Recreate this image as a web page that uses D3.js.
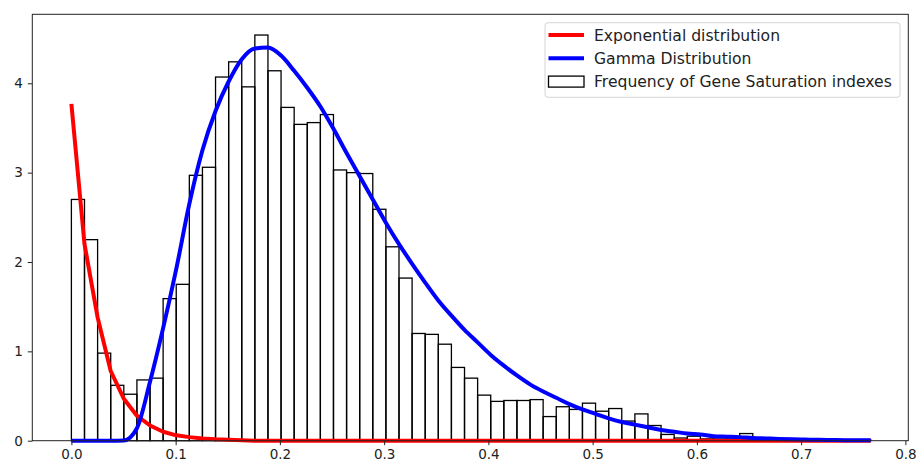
<!DOCTYPE html>
<html>
<head>
	<script src="https://cdn.jsdelivr.net/npm/d3@7"></script>
	<style>
		html, body {
			padding: 0;
			margin: 0;
			background: white;
		}
		text {
			font-family: "DejaVu Sans", sans-serif;
		}
	</style>
</head>
<body>
	<script>
		// histogram bins: first edge and width, then density per bin
		var binStart = 0;
		var binWidth = 0.01257;
		var density = [2.70, 2.25, 0.98, 0.62, 0.52, 0.68, 0.70, 1.59, 1.75, 2.97,
			3.06, 4.07, 4.24, 3.96, 4.54, 4.14, 3.73, 3.54, 3.56, 3.65,
			3.03, 3.00, 2.99, 2.59, 2.17, 1.82, 1.20, 1.19, 1.08, 0.82,
			0.70, 0.51, 0.44, 0.45, 0.45, 0.46, 0.27, 0.38, 0.35, 0.42,
			0.33, 0.36, 0.22, 0.30, 0.17, 0.07, 0.03, 0.05, 0.02, 0.03,
			0.02, 0.08, 0.01, 0.01, 0.01, 0, 0, 0.01, 0, 0, 0.01];

		// fitted curves, sampled at the bin edges
		var expValues = [3.77, 2.20, 1.38, 0.78, 0.47, 0.28, 0.17, 0.10, 0.06, 0.04,
			0.025, 0.015, 0.01, 0.005, 0, 0, 0, 0, 0, 0,
			0, 0, 0, 0, 0, 0, 0, 0, 0, 0,
			0, 0, 0, 0, 0, 0, 0, 0, 0, 0,
			0, 0, 0, 0, 0, 0, 0, 0, 0, 0,
			0, 0, 0, 0, 0, 0, 0, 0, 0, 0,
			0, 0];
		var gammaValues = [0, 0, 0, 0, 0.003, 0.14, 0.66, 1.26, 1.92, 2.65,
			3.25, 3.69, 4.02, 4.27, 4.39, 4.40, 4.31, 4.14, 3.95, 3.74,
			3.49, 3.22, 2.96, 2.70, 2.44, 2.20, 1.98, 1.77, 1.57, 1.40,
			1.24, 1.10, 0.96, 0.84, 0.73, 0.63, 0.55, 0.48, 0.41, 0.35,
			0.30, 0.25, 0.21, 0.18, 0.15, 0.12, 0.10, 0.08, 0.07, 0.05,
			0.045, 0.04, 0.03, 0.025, 0.02, 0.016, 0.013, 0.01, 0.008, 0.006,
			0.005, 0.004];

		var xTicks = [0.0, 0.1, 0.2, 0.3, 0.4, 0.5, 0.6, 0.7, 0.8];
		var yTicks = [0, 1, 2, 3, 4];
		var legendLabels = ["Exponential distribution", "Gamma Distribution", "Frequency of Gene Saturation indexes"];

		var width = 919, height = 467;
		var plotL = 32.3, plotR = 908.3, plotT = 14.3, plotB = 440.7;

		var svg = d3.select('body').append('svg')
			.attr('width', width)
			.attr('height', height);

		var x = d3.scaleLinear().domain([-0.0375, 0.8028]).range([plotL, plotR]);
		var y = d3.scaleLinear().domain([0, 4.772]).range([plotB, plotT]);

		var edges = d3.range(density.length + 1).map(function(i) { return binStart + i * binWidth; });

		/* bars */
		svg.append('g').selectAll('rect')
			.data(density)
			.join('rect')
			.attr('x', function(d, i) { return x(edges[i]); })
			.attr('y', function(d) { return y(d); })
			.attr('width', function(d, i) { return x(edges[i + 1]) - x(edges[i]); })
			.attr('height', function(d) { return y(0) - y(d); })
			.attr('fill', 'none')
			.attr('stroke', 'black')
			.attr('stroke-width', 1.3);

		/* curves */
		var line = d3.line()
			.x(function(d, i) { return x(edges[i]); })
			.y(function(d) { return y(d); });

		svg.append('path')
			.datum(expValues)
			.attr('d', line)
			.attr('fill', 'none')
			.attr('stroke', 'red')
			.attr('stroke-width', 4)
			.attr('stroke-linejoin', 'round');

		svg.append('path')
			.datum(gammaValues)
			.attr('d', line.curve(d3.curveMonotoneX))
			.attr('fill', 'none')
			.attr('stroke', 'blue')
			.attr('stroke-width', 4)
			.attr('stroke-linejoin', 'round');

		/* axes */
		var xAxis = svg.append('g')
			.attr('transform', 'translate(0,' + plotB + ')')
			.call(d3.axisBottom(x).tickValues(xTicks).tickFormat(d3.format('.1f')).tickSizeInner(4.5).tickSizeOuter(0).tickPadding(4));
		var yAxis = svg.append('g')
			.attr('transform', 'translate(' + plotL + ',0)')
			.call(d3.axisLeft(y).tickValues(yTicks).tickFormat(d3.format('d')).tickSizeInner(4.5).tickSizeOuter(0).tickPadding(5));
		[xAxis, yAxis].forEach(function(a) {
			a.select('.domain').remove();
			a.selectAll('text').style('font-family', '"DejaVu Sans", sans-serif').style('font-size', '13.5px').attr('fill', '#222');
			a.selectAll('line').attr('stroke', '#222').attr('stroke-width', 1);
		});

		/* frame */
		svg.append('rect')
			.attr('x', plotL).attr('y', plotT)
			.attr('width', plotR - plotL).attr('height', plotB - plotT)
			.attr('fill', 'none')
			.attr('stroke', '#222')
			.attr('stroke-width', 1);

		/* legend */
		var lg = svg.append('g').attr('transform', 'translate(545,22.7)');
		lg.append('rect')
			.attr('width', 355).attr('height', 74.6)
			.attr('rx', 3)
			.attr('fill', 'white').attr('fill-opacity', 0.8)
			.attr('stroke', '#d4d4d4').attr('stroke-width', 1);
		var colors = ['red', 'blue'];
		legendLabels.forEach(function(lab, i) {
			var cy = 12.3 + i * 23.3;
			if (i < 2) {
				lg.append('line')
					.attr('x1', 3.5).attr('x2', 39)
					.attr('y1', cy).attr('y2', cy)
					.attr('stroke', colors[i]).attr('stroke-width', 4);
			} else {
				lg.append('rect')
					.attr('x', 3.5).attr('y', cy - 5.5)
					.attr('width', 35.5).attr('height', 11)
					.attr('fill', 'none').attr('stroke', 'black').attr('stroke-width', 1.3);
			}
			lg.append('text')
				.attr('x', 49).attr('y', cy)
				.attr('dy', '0.36em')
				.attr('font-size', '15.6px')
				.attr('fill', '#222')
				.text(lab);
		});
	</script>
</body>
</html>
